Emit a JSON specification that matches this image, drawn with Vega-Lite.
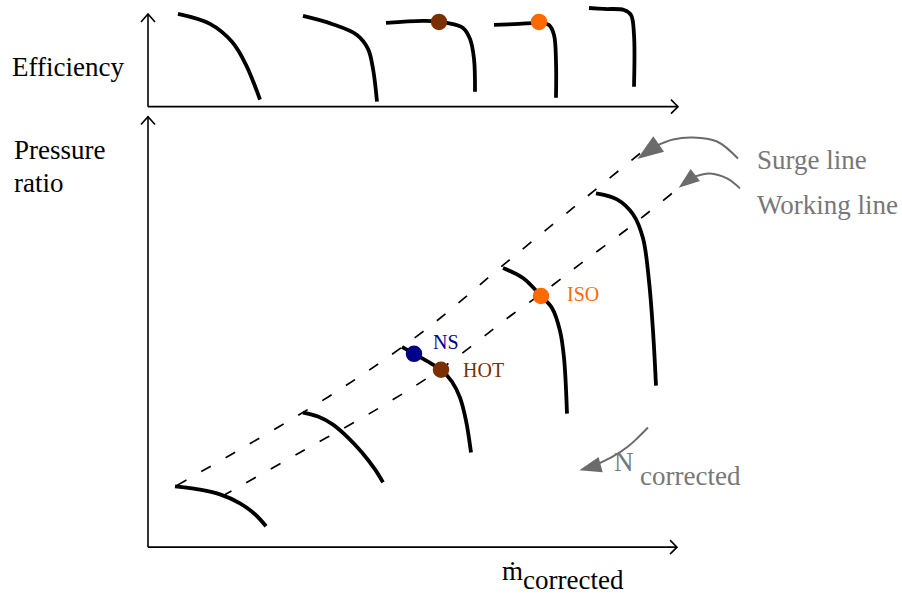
{
  "$schema": "https://vega.github.io/schema/vega-lite/v6.json",
  "width": 902,
  "height": 596,
  "autosize": {"type": "fit", "contains": "padding"},
  "padding": 0,
  "background": "white",
  "config": {"view": {"stroke": null}},
  "datasets": {
    "axes": [
      {"id": "ey", "o": 1, "x": 148, "y": 105}, {"id": "ey", "o": 2, "x": 148, "y": 12},
      {"id": "eyh", "o": 1, "x": 141, "y": 20}, {"id": "eyh", "o": 2, "x": 148, "y": 12}, {"id": "eyh", "o": 3, "x": 155, "y": 20},
      {"id": "ex", "o": 1, "x": 148, "y": 105}, {"id": "ex", "o": 2, "x": 678, "y": 105},
      {"id": "exh", "o": 1, "x": 671, "y": 98}, {"id": "exh", "o": 2, "x": 678, "y": 105}, {"id": "exh", "o": 3, "x": 671, "y": 112},
      {"id": "py", "o": 1, "x": 148, "y": 547}, {"id": "py", "o": 2, "x": 148, "y": 115},
      {"id": "pyh", "o": 1, "x": 141, "y": 123}, {"id": "pyh", "o": 2, "x": 148, "y": 115}, {"id": "pyh", "o": 3, "x": 155, "y": 123},
      {"id": "px", "o": 1, "x": 148, "y": 547}, {"id": "px", "o": 2, "x": 677, "y": 547},
      {"id": "pxh", "o": 1, "x": 670, "y": 540}, {"id": "pxh", "o": 2, "x": 677, "y": 547}, {"id": "pxh", "o": 3, "x": 670, "y": 554}
    ],
    "dashed": [
      {"id": "surge", "o": 1, "x": 177, "y": 485}, {"id": "surge", "o": 2, "x": 327, "y": 397}, {"id": "surge", "o": 3, "x": 420, "y": 333},
      {"id": "surge", "o": 4, "x": 508, "y": 260}, {"id": "surge", "o": 5, "x": 597, "y": 187}, {"id": "surge", "o": 6, "x": 640, "y": 152},
      {"id": "work", "o": 1, "x": 222, "y": 496}, {"id": "work", "o": 2, "x": 300, "y": 452}, {"id": "work", "o": 3, "x": 378, "y": 408},
      {"id": "work", "o": 4, "x": 441, "y": 368}, {"id": "work", "o": 5, "x": 513, "y": 313}, {"id": "work", "o": 6, "x": 541, "y": 293},
      {"id": "work", "o": 7, "x": 580, "y": 263}, {"id": "work", "o": 8, "x": 627, "y": 228}, {"id": "work", "o": 9, "x": 672, "y": 192}
    ],
    "curves": [
      {"id": "E1", "o": 1, "x": 178, "y": 12}, {"id": "E1", "o": 2, "x": 210, "y": 22}, {"id": "E1", "o": 3, "x": 232, "y": 40}, {"id": "E1", "o": 4, "x": 246, "y": 63}, {"id": "E1", "o": 5, "x": 260, "y": 98},
      {"id": "E2", "o": 1, "x": 303, "y": 14}, {"id": "E2", "o": 2, "x": 332, "y": 22}, {"id": "E2", "o": 3, "x": 357, "y": 33}, {"id": "E2", "o": 4, "x": 368, "y": 47}, {"id": "E2", "o": 5, "x": 373, "y": 67}, {"id": "E2", "o": 6, "x": 377, "y": 100},
      {"id": "E3", "o": 1, "x": 386, "y": 21}, {"id": "E3", "o": 2, "x": 425, "y": 19}, {"id": "E3", "o": 3, "x": 447, "y": 21}, {"id": "E3", "o": 4, "x": 463, "y": 26}, {"id": "E3", "o": 5, "x": 470, "y": 37}, {"id": "E3", "o": 6, "x": 474, "y": 57}, {"id": "E3", "o": 7, "x": 475, "y": 90},
      {"id": "E4", "o": 1, "x": 494, "y": 23}, {"id": "E4", "o": 2, "x": 519, "y": 22}, {"id": "E4", "o": 3, "x": 539, "y": 21}, {"id": "E4", "o": 4, "x": 549, "y": 23}, {"id": "E4", "o": 5, "x": 554, "y": 33}, {"id": "E4", "o": 6, "x": 556, "y": 60}, {"id": "E4", "o": 7, "x": 556, "y": 96},
      {"id": "E5", "o": 1, "x": 589, "y": 6}, {"id": "E5", "o": 2, "x": 604, "y": 7}, {"id": "E5", "o": 3, "x": 624, "y": 8}, {"id": "E5", "o": 4, "x": 631, "y": 13}, {"id": "E5", "o": 5, "x": 634, "y": 33}, {"id": "E5", "o": 6, "x": 634, "y": 85},
      {"id": "P1", "o": 1, "x": 175, "y": 486}, {"id": "P1", "o": 2, "x": 198, "y": 489}, {"id": "P1", "o": 3, "x": 220, "y": 494}, {"id": "P1", "o": 4, "x": 240, "y": 503}, {"id": "P1", "o": 5, "x": 255, "y": 514}, {"id": "P1", "o": 6, "x": 266, "y": 526},
      {"id": "P2", "o": 1, "x": 303, "y": 412}, {"id": "P2", "o": 2, "x": 318, "y": 416}, {"id": "P2", "o": 3, "x": 333, "y": 424}, {"id": "P2", "o": 4, "x": 348, "y": 437}, {"id": "P2", "o": 5, "x": 362, "y": 452}, {"id": "P2", "o": 6, "x": 375, "y": 469}, {"id": "P2", "o": 7, "x": 383, "y": 482},
      {"id": "P3", "o": 1, "x": 402, "y": 346}, {"id": "P3", "o": 2, "x": 414, "y": 353}, {"id": "P3", "o": 3, "x": 430, "y": 362}, {"id": "P3", "o": 4, "x": 441, "y": 369}, {"id": "P3", "o": 5, "x": 452, "y": 381}, {"id": "P3", "o": 6, "x": 460, "y": 397}, {"id": "P3", "o": 7, "x": 466, "y": 420}, {"id": "P3", "o": 8, "x": 471, "y": 452},
      {"id": "P4", "o": 1, "x": 503, "y": 267}, {"id": "P4", "o": 2, "x": 523, "y": 277}, {"id": "P4", "o": 3, "x": 541, "y": 295}, {"id": "P4", "o": 4, "x": 552, "y": 307}, {"id": "P4", "o": 5, "x": 560, "y": 330}, {"id": "P4", "o": 6, "x": 564, "y": 357}, {"id": "P4", "o": 7, "x": 567, "y": 413},
      {"id": "P5", "o": 1, "x": 596, "y": 192}, {"id": "P5", "o": 2, "x": 617, "y": 198}, {"id": "P5", "o": 3, "x": 633, "y": 213}, {"id": "P5", "o": 4, "x": 643, "y": 237}, {"id": "P5", "o": 5, "x": 649, "y": 280}, {"id": "P5", "o": 6, "x": 653, "y": 330}, {"id": "P5", "o": 7, "x": 656, "y": 385}
    ],
    "pointers": [
      {"id": "s", "o": 1, "x": 738, "y": 157}, {"id": "s", "o": 2, "x": 717, "y": 140}, {"id": "s", "o": 3, "x": 693, "y": 136}, {"id": "s", "o": 4, "x": 673, "y": 138}, {"id": "s", "o": 5, "x": 657, "y": 144},
      {"id": "w", "o": 1, "x": 740, "y": 187}, {"id": "w", "o": 2, "x": 727, "y": 177}, {"id": "w", "o": 3, "x": 710, "y": 172}, {"id": "w", "o": 4, "x": 695, "y": 175},
      {"id": "n", "o": 1, "x": 648, "y": 427}, {"id": "n", "o": 2, "x": 638, "y": 437}, {"id": "n", "o": 3, "x": 628, "y": 446}, {"id": "n", "o": 4, "x": 613, "y": 456}, {"id": "n", "o": 5, "x": 599, "y": 463}
    ],
    "heads": [
      {"id": "s", "x": 648, "y": 150, "angle": 235, "len": 26},
      {"id": "w", "x": 687, "y": 180, "angle": 232, "len": 21},
      {"id": "n", "x": 590, "y": 467, "angle": 255, "len": 22}
    ],
    "dots": [
      {"case": "NS", "x": 414, "y": 353},
      {"case": "HOT", "x": 441, "y": 369},
      {"case": "ISO", "x": 541, "y": 295},
      {"case": "HOT", "x": 439, "y": 20},
      {"case": "ISO", "x": 539, "y": 20}
    ],
    "caseLabels": [
      {"case": "NS", "t": "NS", "x": 433, "y": 348},
      {"case": "HOT", "t": "HOT", "x": 463, "y": 376},
      {"case": "ISO", "t": "ISO", "x": 567, "y": 300}
    ],
    "blackText": [
      {"t": "Efficiency", "x": 12, "y": 74},
      {"t": "Pressure", "x": 14, "y": 158},
      {"t": "ratio", "x": 14, "y": 191},
      {"t": "ṁ", "x": 502, "y": 580},
      {"t": "corrected", "x": 523, "y": 589}
    ],
    "grayText": [
      {"t": "Surge line", "x": 757, "y": 168},
      {"t": "Working line", "x": 757, "y": 213},
      {"t": "N", "x": 614, "y": 471},
      {"t": "corrected", "x": 640, "y": 485}
    ]
  },
  "encoding": {
    "x": {"field": "x", "type": "quantitative", "scale": {"domain": [0, 902], "nice": false, "zero": false}, "axis": null},
    "y": {"field": "y", "type": "quantitative", "scale": {"domain": [0, 596], "nice": false, "zero": false, "reverse": true}, "axis": null}
  },
  "layer": [
    {
      "data": {"name": "axes"},
      "mark": {"type": "line", "color": "black", "strokeWidth": 1.6, "clip": false},
      "encoding": {"detail": {"field": "id"}, "order": {"field": "o"}}
    },
    {
      "data": {"name": "dashed"},
      "mark": {"type": "line", "color": "black", "strokeWidth": 1.7, "strokeDash": [11, 17], "interpolate": "catmull-rom"},
      "encoding": {"detail": {"field": "id"}, "order": {"field": "o"}}
    },
    {
      "data": {"name": "curves"},
      "mark": {"type": "line", "color": "black", "strokeWidth": 3.8, "interpolate": "catmull-rom"},
      "encoding": {"detail": {"field": "id"}, "order": {"field": "o"}}
    },
    {
      "data": {"name": "pointers"},
      "mark": {"type": "line", "color": "#6b6b6b", "strokeWidth": 2, "interpolate": "catmull-rom"},
      "encoding": {"detail": {"field": "id"}, "order": {"field": "o"}}
    },
    {
      "data": {"name": "heads"},
      "mark": {"type": "point", "shape": "M-0.72,1L0.72,1L0,-1Z", "filled": true, "color": "#6b6b6b", "opacity": 1, "strokeWidth": 0},
      "encoding": {
        "angle": {"field": "angle", "type": "quantitative", "scale": null},
        "size": {"field": "len", "type": "quantitative", "scale": {"type": "pow", "exponent": 2, "domain": [0, 26], "range": [0, 676]}, "legend": null}
      }
    },
    {
      "data": {"name": "dots"},
      "mark": {"type": "point", "shape": "circle", "filled": true, "opacity": 1, "size": 270, "strokeWidth": 0},
      "encoding": {
        "color": {"field": "case", "type": "nominal", "scale": {"domain": ["NS", "HOT", "ISO"], "range": ["#000088", "#7a3000", "#ff6a00"]}, "legend": null}
      }
    },
    {
      "data": {"name": "caseLabels"},
      "mark": {"type": "text", "align": "left", "baseline": "alphabetic", "font": "Liberation Serif", "fontSize": 20},
      "encoding": {
        "text": {"field": "t"},
        "color": {"field": "case", "type": "nominal", "scale": {"domain": ["NS", "HOT", "ISO"], "range": ["#000088", "#7f2418", "#ff6a00"]}, "legend": null}
      }
    },
    {
      "data": {"name": "blackText"},
      "mark": {"type": "text", "align": "left", "baseline": "alphabetic", "font": "Liberation Serif", "fontSize": 27, "color": "black"},
      "encoding": {"text": {"field": "t"}}
    },
    {
      "data": {"name": "grayText"},
      "mark": {"type": "text", "align": "left", "baseline": "alphabetic", "font": "Liberation Serif", "fontSize": 27, "color": "#777777"},
      "encoding": {"text": {"field": "t"}}
    }
  ]
}
